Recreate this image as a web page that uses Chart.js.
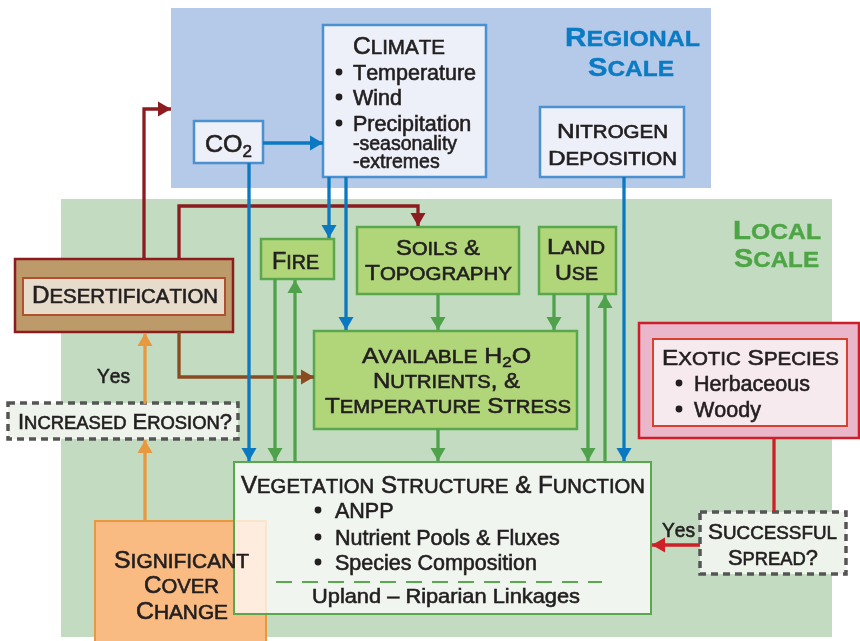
<!DOCTYPE html>
<html>
<head>
<meta charset="utf-8">
<script src="https://cdn.jsdelivr.net/npm/chart.js@4.4.1/dist/chart.umd.min.js"></script>
<style>
  html, body { margin: 0; padding: 0; background: #fff; }
  #wrap { width: 860px; height: 641px; }
</style>
</head>
<body>
<div id="wrap"><canvas id="diagram" width="860" height="641"></canvas></div>
<script>
const FONT = '"Liberation Sans", Arial, Helvetica, sans-serif';
const INK = '#231f20';

// scale regions: [x1, y1, x2, y2] in diagram units
const regionRects = [[171, 8, 711, 188], [61, 199, 832, 637]];
const regionFills = ['#b5c9e9', '#c3dcc1'];

// boxes, drawn in this order
const boxNames = ['co2', 'climate', 'nitrogen', 'fire', 'soils', 'landUse', 'water',
  'desertOuter', 'desertInner', 'erosion', 'cover', 'vegetation', 'exoticOuter', 'exoticInner', 'spread'];
const boxRects = [
  [194, 121, 263, 163], [323, 25, 486, 177], [540, 107, 684, 177],
  [261, 239, 334, 279], [357, 227, 519, 294], [539, 227, 616, 294], [314, 331, 577, 429],
  [15, 259, 233, 332], [23, 278, 225, 315], [8, 403, 238, 439],
  [95, 521, 266, 660], [234, 462, 651, 614],
  [639, 323, 859, 438], [653, 339, 847, 426], [700, 512, 846, 574]
];
const boxStyles = {
  regional: { fill: '#edf0f8', stroke: '#4b91cf', width: 2.5 },
  local: { fill: '#b1d679', stroke: '#5aa84e', width: 2.5 },
  desertOuter: { fill: '#bc9a6a', stroke: '#8c1c1f', width: 2.5 },
  desertInner: { fill: '#e7dccb', stroke: '#b0502f', width: 2 },
  question: { fill: '#eef3ec', stroke: '#555555', width: 3.5, dash: [7, 5] },
  cover: { fill: '#f9bb82', stroke: '#e8983f', width: 2 },
  vegetation: { fill: 'rgba(255,255,255,0.74)', stroke: '#5aa84e', width: 2 },
  exoticOuter: { fill: '#eab6ca', stroke: '#cc1f2a', width: 2.5 },
  exoticInner: { fill: '#f7eaef', stroke: '#d8402f', width: 2 }
};
const boxKinds = ['regional', 'regional', 'regional', 'local', 'local', 'local', 'local',
  'desertOuter', 'desertInner', 'question', 'cover', 'vegetation', 'exoticOuter', 'exoticInner', 'question'];

// links (polylines), arrowhead at the last point
const blueLinks = [
  [[263, 143], [323, 143]],
  [[249, 163], [249, 461]],
  [[329, 177], [329, 238]],
  [[346, 177], [346, 330]],
  [[624, 177], [624, 461]]
];
const greenLinks = [
  [[275, 279], [275, 461]],
  [[295, 462], [295, 280]],
  [[438, 294], [438, 330]],
  [[554, 294], [554, 330]],
  [[438, 429], [438, 461]],
  [[588, 294], [588, 461]],
  [[605, 462], [605, 295]]
];
const orangeLinks = [
  [[145, 404], [145, 333]],
  [[145, 521], [145, 440]]
];
const redLinks = [
  [[144, 259], [144, 109], [171, 109]],
  [[179, 259], [179, 206], [418, 206], [418, 226]]
];
const brownLinks = [
  [[179, 332], [179, 377], [314, 377]]
];
const spreadLinks = [
  [[700, 545], [652, 545]]
];
const exoticLink = [[774, 438], [774, 512]];
const uplandDivider = [[276, 582], [602, 582]];

// titles: [text, centre x, baseline, cap size, width]
const scaleTitles = [
  ['Regional', 632.5, 46, 26, 135, '#0b7bc3'],
  ['Scale', 631, 76, 26, 86, '#0b7bc3'],
  ['Local', 777, 239, 26, 88, '#4ea546'],
  ['Scale', 776.5, 267, 26, 85, '#4ea546']
];
const boxTitles = [
  ['Climate', 399, 54, 23, 92],
  ['CO₂', 228.5, 152, 24, 47],
  ['Nitrogen', 612.5, 138, 21, 111],
  ['Deposition', 612.5, 165, 21, 129],
  ['Fire', 295.5, 269, 23, 47],
  ['Soils &', 438, 255, 22, 84],
  ['Topography', 438.5, 280, 22, 147],
  ['Land', 576, 254, 22, 58],
  ['Use', 576.5, 280, 22, 43],
  ['Available H₂O', 446.5, 363, 22, 169],
  ['Nutrients, &', 446.5, 388, 22, 147],
  ['Temperature Stress', 448, 413, 22, 246],
  ['Desertification', 125, 303, 23, 186],
  ['Increased Erosion?', 125, 429, 22, 214],
  ['Exotic Species', 750.5, 365, 22, 177],
  ['Successful', 772.5, 539, 22, 129],
  ['Spread?', 773, 565, 22, 90],
  ['Vegetation Structure & Function', 443, 493, 23, 404],
  ['Significant', 181.5, 568, 23, 135],
  ['Cover', 181.5, 593, 23, 75],
  ['Change', 182, 619, 23, 92]
];
const plainNotes = [
  ['Yes', 113.5, 383, 21, 33],
  ['Yes', 678.5, 537, 21, 33],
  ['Upland – Riparian Linkages', 446, 603, 21, 268]
];

// bullet lists
const climateItems = ['Temperature', 'Wind', 'Precipitation'];
const climateBase = [80, 105, 131];
const precipNotes = ['-seasonality', '-extremes'];
const precipBase = [150, 168];
const vegetationItems = ['ANPP', 'Nutrient Pools & Fluxes', 'Species Composition'];
const vegetationBase = [518, 545, 570];
const exoticItems = ['Herbaceous', 'Woody'];
const exoticBase = [391, 417];

function linkDataset(points, color, head, extra) {
  return Object.assign({
    data: points.map(p => ({ x: p[0], y: p[1] })),
    showLine: true,
    borderColor: color,
    borderWidth: 3.3,
    borderCapStyle: 'butt',
    borderJoinStyle: 'miter',
    pointRadius: 0,
    pointHitRadius: 0,
    tension: 0,
    fill: false,
    clip: false,
    head: head
  }, extra || {});
}

// chart.js draws dataset 0 last, so the ones on top go first
const datasets = [];
blueLinks.forEach(l => datasets.push(linkDataset(l, '#0a79c2', true)));
greenLinks.forEach(l => datasets.push(linkDataset(l, '#4fa24b', true)));
orangeLinks.forEach(l => datasets.push(linkDataset(l, '#e8983f', true)));
spreadLinks.forEach(l => datasets.push(linkDataset(l, '#cf2027', true)));
datasets.push(linkDataset(exoticLink, '#cf2027', false));
datasets.push(linkDataset(uplandDivider, '#5aa84e', false, { borderWidth: 2.2, borderDash: [16, 10] }));
brownLinks.forEach(l => datasets.push(linkDataset(l, '#8b4b20', true)));
redLinks.forEach(l => datasets.push(linkDataset(l, '#8c1c1f', true)));

function drawLabel(ctx, str, cx, base, size, width, o) {
  o = o || {};
  const small = size * 0.84, sub = size * 0.68;
  const weight = o.bold ? 'bold ' : '';
  const runs = [];
  for (const ch of str) {
    if (ch === '₂') runs.push({ ch: '2', s: sub, dy: size * 0.2 });
    else if (!o.plain && ch >= 'a' && ch <= 'z') runs.push({ ch: ch.toUpperCase(), s: small, dy: 0 });
    else runs.push({ ch: ch, s: size, dy: 0 });
  }
  let w = 0;
  runs.forEach(r => {
    ctx.font = weight + r.s + 'px ' + FONT;
    r.w = ctx.measureText(r.ch).width;
    w += r.w;
  });
  const sx = width ? width / w : 1;
  const left = o.left ? cx : cx - w * sx / 2;
  ctx.save();
  ctx.translate(left, base);
  ctx.scale(sx, 1);
  ctx.fillStyle = o.color || INK;
  ctx.strokeStyle = o.color || INK;
  ctx.lineWidth = o.bold ? 0.4 : 0.6;
  ctx.textBaseline = 'alphabetic';
  ctx.textAlign = 'left';
  let px = 0;
  runs.forEach(r => {
    ctx.font = weight + r.s + 'px ' + FONT;
    ctx.fillText(r.ch, px, r.dy);
    ctx.strokeText(r.ch, px, r.dy);
    px += r.w;
  });
  ctx.restore();
}

const diagramPlugin = {
  id: 'diagram',
  beforeDatasetsDraw(chart) {
    const { ctx, scales: { x, y } } = chart;
    ctx.save();
    regionRects.forEach((r, i) => {
      ctx.fillStyle = regionFills[i];
      ctx.fillRect(x.getPixelForValue(r[0]), y.getPixelForValue(r[1]),
        x.getPixelForValue(r[2]) - x.getPixelForValue(r[0]), y.getPixelForValue(r[3]) - y.getPixelForValue(r[1]));
    });
    boxNames.forEach((name, i) => {
      const r = boxRects[i];
      const st = boxStyles[boxKinds[i]];
      const x1 = x.getPixelForValue(r[0]), y1 = y.getPixelForValue(r[1]);
      const w = x.getPixelForValue(r[2]) - x1, h = y.getPixelForValue(r[3]) - y1;
      ctx.fillStyle = st.fill;
      ctx.fillRect(x1, y1, w, h);
      ctx.strokeStyle = st.stroke;
      ctx.lineWidth = st.width;
      ctx.setLineDash(st.dash || []);
      ctx.strokeRect(x1, y1, w, h);
    });
    ctx.setLineDash([]);
    ctx.restore();
  },
  afterDatasetsDraw(chart) {
    const { ctx, scales: { x, y } } = chart;
    ctx.save();
    // arrow heads
    chart.data.datasets.forEach((ds, i) => {
      if (!ds.head) return;
      const pts = chart.getDatasetMeta(i).data;
      const a = pts[pts.length - 2], b = pts[pts.length - 1];
      const ang = Math.atan2(b.y - a.y, b.x - a.x);
      const L = 13, W = 7.5;
      ctx.save();
      ctx.translate(b.x, b.y);
      ctx.rotate(ang);
      ctx.beginPath();
      ctx.moveTo(0, 0);
      ctx.lineTo(-L, -W);
      ctx.lineTo(-L, W);
      ctx.closePath();
      ctx.fillStyle = ds.borderColor;
      ctx.fill();
      ctx.restore();
    });
    const px = v => x.getPixelForValue(v), py = v => y.getPixelForValue(v);
    scaleTitles.forEach(t => drawLabel(ctx, t[0], px(t[1]), py(t[2]), t[3], t[4], { bold: true, color: t[5] }));
    boxTitles.forEach(t => drawLabel(ctx, t[0], px(t[1]), py(t[2]), t[3], t[4]));
    plainNotes.forEach(t => drawLabel(ctx, t[0], px(t[1]), py(t[2]), t[3], t[4], { plain: true }));

    const bullets = (items, bases, dotX, textX, size, dot) => {
      items.forEach((s, i) => {
        if (dot) {
          ctx.beginPath();
          ctx.arc(px(dotX), py(bases[i] - 8), 3.4, 0, Math.PI * 2);
          ctx.fillStyle = INK;
          ctx.fill();
        }
        drawLabel(ctx, s, px(textX), py(bases[i]), size, null, { plain: true, left: true });
      });
    };
    bullets(climateItems, climateBase, 339, 353, 21.5, true);
    bullets(precipNotes, precipBase, 0, 353, 19.5, false);
    bullets(vegetationItems, vegetationBase, 318, 335, 21.5, true);
    bullets(exoticItems, exoticBase, 679, 694, 21.5, true);
    ctx.restore();
  }
};

new Chart(document.getElementById('diagram'), {
  type: 'scatter',
  data: { datasets },
  options: {
    responsive: false,
    devicePixelRatio: 1,
    animation: false,
    events: [],
    layout: { padding: 0 },
    scales: {
      x: { type: 'linear', min: 0, max: 860, display: false },
      y: { type: 'linear', min: 0, max: 641, reverse: true, display: false }
    },
    plugins: { legend: { display: false }, tooltip: { enabled: false } }
  },
  plugins: [diagramPlugin]
});
</script>
</body>
</html>
